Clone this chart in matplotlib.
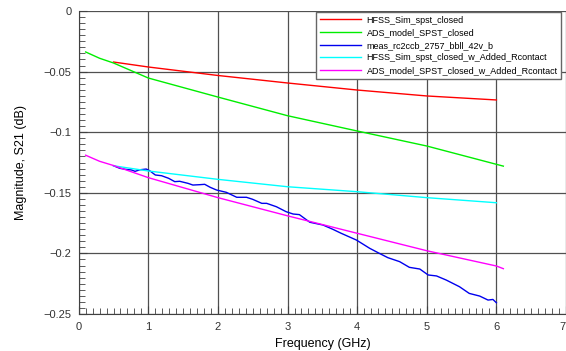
import matplotlib
matplotlib.use("Agg")
import matplotlib.pyplot as plt
from matplotlib.ticker import MultipleLocator, FuncFormatter

plt.rcParams['font.family'] = ['Liberation Sans', 'DejaVu Sans']

# Data (frequency in GHz, magnitude in dB)
hfss_f = [0.5, 1, 2, 3, 4, 5, 6]
hfss_v = [-0.0421, -0.0462, -0.0532, -0.0594, -0.0652, -0.0701, -0.0734]

ads_f = [0.1, 0.3, 0.5, 1, 2, 3, 4, 5, 6, 6.1]
ads_v = [-0.0338, -0.0390, -0.0429, -0.0553, -0.0710, -0.0864, -0.0990, -0.1114, -0.1265, -0.1280]

meas_f = [0.50, 0.59, 0.67, 0.76, 0.81, 0.88, 0.97, 1.02, 1.10, 1.19, 1.29, 1.38, 1.45,
          1.57, 1.64, 1.74, 1.81, 1.89, 1.98, 2.12, 2.27, 2.41, 2.50, 2.63, 2.70, 2.84,
          2.98, 3.08, 3.17, 3.32, 3.51, 3.65, 3.77, 3.99, 4.18, 4.32, 4.44, 4.61, 4.75,
          4.90, 5.02, 5.14, 5.28, 5.47, 5.61, 5.76, 5.88, 5.95, 6.00]
meas_v = [-0.1277, -0.1298, -0.1306, -0.1312, -0.1323, -0.1310, -0.1304, -0.1318, -0.1353,
          -0.1359, -0.1380, -0.1408, -0.1405, -0.1422, -0.1436, -0.1433, -0.1430, -0.1455,
          -0.1477, -0.1496, -0.1537, -0.1537, -0.1554, -0.1587, -0.1587, -0.1615, -0.1656,
          -0.1675, -0.1680, -0.1743, -0.1766, -0.1801, -0.1834, -0.1890, -0.1958, -0.2000,
          -0.2035, -0.2068, -0.2115, -0.2129, -0.2178, -0.2186, -0.2220, -0.2275, -0.2330,
          -0.2352, -0.2385, -0.2380, -0.2407]

hfssr_f = [0.5, 1, 2, 3, 4, 5, 6]
hfssr_v = [-0.1277, -0.1320, -0.1389, -0.1450, -0.1491, -0.1540, -0.1582]

adsr_f = [0.1, 0.3, 0.5, 1, 2, 3, 4, 5, 6, 6.1]
adsr_v = [-0.1190, -0.1240, -0.1275, -0.1375, -0.1540, -0.1690, -0.1834, -0.1978, -0.2104, -0.2126]

labels = ["HFSS_Sim_spst_closed", "ADS_model_SPST_closed", "meas_rc2ccb_2757_bbll_42v_b",
          "HFSS_Sim_spst_closed_w_Added_Rcontact", "ADS_model_SPST_closed_w_Added_Rcontact"]
colors = ["#ff0000", "#00ee00", "#0000ee", "#00ffff", "#ff00ff"]

fig = plt.figure(figsize=(5.66, 3.51), dpi=100)
L, R, T, B = 78.7, 566.0, 11, 314
ax = fig.add_axes([L/566, 1-B/351, (R-L)/566, (B-T)/351])

series = [(hfss_f, hfss_v), (ads_f, ads_v), (meas_f, meas_v), (hfssr_f, hfssr_v), (adsr_f, adsr_v)]
for (x, y), lab, c in zip(series, labels, colors):
    ax.plot(x, y, color=c, lw=1.0, label=lab, zorder=3)

ax.set_xlim(0, 7)
ax.set_ylim(-0.25, 0)
ax.xaxis.set_major_locator(MultipleLocator(1))
ax.xaxis.set_minor_locator(MultipleLocator(0.1))
ax.yaxis.set_major_locator(MultipleLocator(0.05))
ax.yaxis.set_minor_locator(MultipleLocator(0.005))

def yfmt(v, pos):
    if abs(v) < 1e-9:
        return "0"
    return ("%g" % round(v, 3)).replace("-0.", "\u22120.")
ax.yaxis.set_major_formatter(FuncFormatter(yfmt))

ax.grid(True, which="major", color="#505050", lw=0.9)
ax.tick_params(which="both", direction="in", color="#404040", labelsize=8,
               labelcolor="#333333", top=False, right=False)
ax.tick_params(which="major", length=6)
ax.tick_params(which="minor", length=4)
ax.tick_params(axis="x", pad=6)
ax.tick_params(axis="y", pad=5)
for s in ["top", "right"]:
    ax.spines[s].set_visible(False)
for s in ["left", "bottom"]:
    ax.spines[s].set_color("#404040")

ax.set_xlabel("Frequency (GHz)", fontsize=9, labelpad=4)
ax.set_ylabel("Magnitude, S21 (dB)", fontsize=9, labelpad=12)

leg = ax.legend(loc="upper left", bbox_to_anchor=((316-L)/(R-L), 1-1/303),
                fontsize=6.5, frameon=True, fancybox=False, handlelength=4.6,
                borderpad=0.4, labelspacing=0.4, handletextpad=0.6, borderaxespad=0)
leg.get_frame().set_edgecolor("#666666")
leg.get_frame().set_linewidth(1.0)
leg.get_frame().set_alpha(1)

fig.canvas.draw()
for lbl in ax.get_xticklabels():
    if lbl.get_text() == "7":
        lbl.set_horizontalalignment("right")

fig.savefig("out.png", dpi=100)
